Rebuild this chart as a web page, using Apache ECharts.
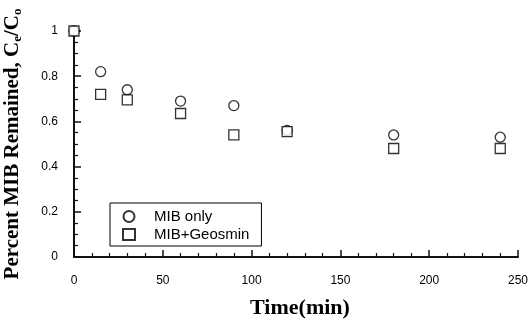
<!DOCTYPE html>
<html>
<head>
<meta charset="utf-8">
<script src="https://cdn.jsdelivr.net/npm/echarts@6/dist/echarts.min.js"></script>
<style>
  html, body { margin: 0; padding: 0; background: #fff; }
  #chart { width: 529px; height: 326px; }
</style>
</head>
<body>
<div id="chart"></div>
<script>
// time points (min)
var times = [0, 15, 30, 60, 90, 120, 180, 240]
// Ce/Co
var mibOnly = [1.0, 0.82, 0.74, 0.69, 0.67, 0.56, 0.54, 0.53]
var mibGeosmin = [1.0, 0.72, 0.695, 0.635, 0.54, 0.555, 0.48, 0.48]
var seriesNames = ['MIB only', 'MIB+Geosmin']

function pairs(ys) {
  return times.map(function (t, i) { return [t, ys[i]] })
}

var chart = echarts.init(document.getElementById('chart'))

var markerStyle = { color: '#fff', borderColor: '#000', borderWidth: 1.3 }
var axisInk = '#111'

chart.setOption({
  animation: false,
  grid: { left: 74, right: 11, top: 31, bottom: 69, outerBoundsMode: 'none' },
  legend: {
    orient: 'vertical',
    left: 110,
    top: 203,
    width: 150,
    padding: [6, 12, 4, 12],
    itemGap: 3,
    itemWidth: 12,
    itemHeight: 11,
    borderColor: '#000',
    borderWidth: 1,
    backgroundColor: '#fff',
    textStyle: { fontFamily: 'Liberation Sans', fontSize: 15, color: '#000', padding: [0, 0, 0, 14] },
    data: [
      { name: seriesNames[0], icon: 'circle' },
      { name: seriesNames[1], icon: 'rect' },
    ],
  },
  xAxis: {
    type: 'value',
    min: 0,
    max: 250,
    interval: 50,
    name: 'Time(min)',
    nameLocation: 'middle',
    nameGap: 40,
    nameTextStyle: { fontFamily: 'Liberation Serif', fontWeight: 'bold', fontSize: 22, color: '#000', padding: [0, 0, 0, 8] },
    axisLine: { show: true, onZero: false, lineStyle: { color: axisInk, width: 2 } },
    axisTick: { show: true, inside: true, length: 7, lineStyle: { color: axisInk, width: 1.5 } },
    minorTick: { show: true, splitNumber: 5, length: 4, lineStyle: { color: axisInk, width: 1.2 } },
    axisLabel: { fontFamily: 'Liberation Sans', fontSize: 12, color: '#000', margin: 18 },
    splitLine: { show: false },
  },
  yAxis: {
    type: 'value',
    min: 0,
    max: 1,
    interval: 0.2,
    name: '{b|Percent MIB Remained, C}{s|e}{b|/C}{s|o}',
    nameLocation: 'middle',
    nameGap: 50,
    nameTextStyle: {
      rich: {
        b: { fontFamily: 'Liberation Serif', fontWeight: 'bold', fontSize: 21, color: '#000' },
        s: { fontFamily: 'Liberation Serif', fontWeight: 'bold', fontSize: 13, color: '#000', padding: [10, 0, 0, 0] },
      },
    },
    axisLine: { show: true, onZero: false, lineStyle: { color: axisInk, width: 2 } },
    axisTick: { show: true, inside: true, length: 7, lineStyle: { color: axisInk, width: 1.5 } },
    minorTick: { show: true, splitNumber: 4, length: 4, lineStyle: { color: axisInk, width: 1.2 } },
    axisLabel: {
      fontFamily: 'Liberation Sans', fontSize: 12, color: '#000', margin: 16,
      formatter: function (v) { return v === 0 || v === 1 ? String(v) : v.toFixed(1) },
    },
    splitLine: { show: false },
  },
  series: [
    {
      name: seriesNames[0],
      type: 'scatter',
      symbol: 'circle',
      symbolSize: 10,
      itemStyle: markerStyle,
      data: pairs(mibOnly),
    },
    {
      name: seriesNames[1],
      type: 'scatter',
      symbol: 'rect',
      symbolSize: [10, 10],
      itemStyle: markerStyle,
      data: pairs(mibGeosmin),
    },
  ],
})
</script>
</body>
</html>
